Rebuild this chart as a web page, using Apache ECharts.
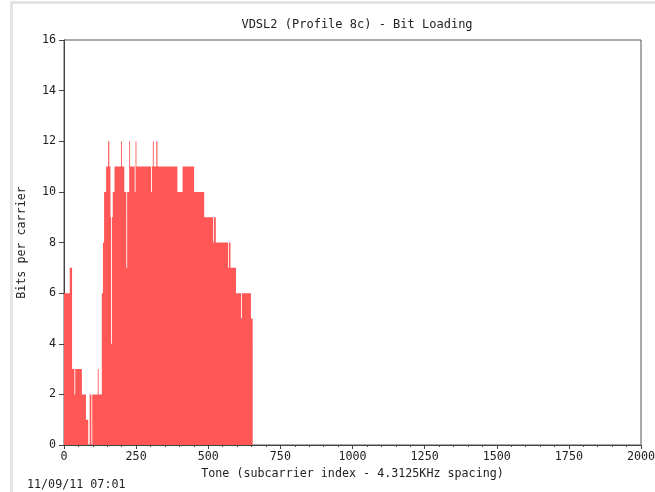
<!DOCTYPE html>
<html>
<head>
<meta charset="utf-8">
<script src="https://cdn.jsdelivr.net/npm/echarts@6/dist/echarts.min.js"></script>
<style>
  html, body { margin: 0; padding: 0; background: #ffffff; }
  #chart { width: 655px; height: 492px; }
</style>
</head>
<body>
<div id="chart"></div>
<script>
// Tone index where each bit-loading step starts (value holds until next tone)
var toneStarts = [0, 20, 28, 36, 39, 62, 76, 84, 89, 95, 98, 117, 120,
  131, 135, 139, 146, 153, 157, 161, 163, 166, 169, 175, 182, 186, 198, 201, 209, 216, 219,
  226, 229, 245, 248, 251, 302, 305, 308, 311, 320, 324, 393, 411, 451, 486,
  517, 520, 526, 569, 572, 577, 596, 614, 617, 648, 654];
// Bits per carrier for each step
var bitValues = [6, 7, 3, 2, 3, 2, 1, 0, 2, 0, 2, 3, 2,
  6, 8, 10, 11, 12, 11, 9, 4, 9, 10, 11, 11, 11, 12, 11, 10, 7, 10,
  12, 11, 10, 12, 11, 10, 11, 12, 11, 12, 11, 10, 11, 10, 9,
  8, 9, 8, 7, 8, 7, 6, 5, 6, 5, 0];
var xTicks = [0, 250, 500, 750, 1000, 1250, 1500, 1750, 2000];
var yTicks = [0, 2, 4, 6, 8, 10, 12, 14, 16];

var seriesData = toneStarts.map(function (t, i) { return [t, bitValues[i]]; });
var mono = '"DejaVu Sans Mono", "Liberation Mono", monospace';

function renderSteps(params, api) {
  if (params.dataIndex !== 0) { return null; }
  var pts = [];
  pts.push(api.coord([toneStarts[0], 0]));
  for (var i = 0; i < toneStarts.length; i++) {
    var next = i + 1 < toneStarts.length ? toneStarts[i + 1] : toneStarts[i];
    pts.push(api.coord([toneStarts[i], bitValues[i]]));
    pts.push(api.coord([next, bitValues[i]]));
  }
  pts.push(api.coord([toneStarts[toneStarts.length - 1], 0]));
  return {
    type: 'polygon',
    shape: { points: pts },
    style: { fill: '#ff5656', stroke: null }
  };
}

var chart = echarts.init(document.getElementById('chart'), null, { renderer: 'canvas' });
chart.setOption({
  animation: false,
  backgroundColor: '#ffffff',
  title: {
    text: 'VDSL2 (Profile 8c) - Bit Loading',
    left: 352, top: 14, textAlign: 'center',
    textStyle: { fontFamily: mono, fontSize: 12, fontWeight: 'normal', color: '#222' }
  },
  grid: { left: 64, right: 14, top: 40, bottom: 47, show: true, borderColor: '#555', borderWidth: 1,
          outerBoundsMode: 'none', containLabel: false },
  xAxis: {
    type: 'value', min: xTicks[0], max: xTicks[xTicks.length - 1], interval: xTicks[1] - xTicks[0],
    name: 'Tone (subcarrier index - 4.3125KHz spacing)',
    nameLocation: 'middle', nameGap: 20,
    nameTextStyle: { fontFamily: mono, fontSize: 11.7, color: '#222' },
    axisLine: { lineStyle: { color: '#444', width: 1 } },
    axisTick: { show: true, length: 4, lineStyle: { color: '#444' } },
    minorTick: { show: true, splitNumber: 5, length: 2, lineStyle: { color: '#444' } },
    axisLabel: { fontFamily: mono, fontSize: 11.7, color: '#222', margin: 6,
                 formatter: function (v) { return String(v); } },
    splitLine: { show: false }
  },
  yAxis: {
    type: 'value', min: yTicks[0], max: yTicks[yTicks.length - 1], interval: yTicks[1] - yTicks[0],
    name: 'Bits per carrier',
    nameLocation: 'middle', nameGap: 36, nameRotate: 90,
    nameTextStyle: { fontFamily: mono, fontSize: 11.7, color: '#222' },
    axisLine: { show: true, lineStyle: { color: '#444', width: 1 } },
    axisTick: { show: true, length: 5, lineStyle: { color: '#444' } },
    axisLabel: { fontFamily: mono, fontSize: 11.7, color: '#222', margin: 8 },
    splitLine: { show: false }
  },
  series: [{
    type: 'custom',
    data: seriesData,
    renderItem: renderSteps,
    clip: true,
    silent: true,
    z: 1
  }],
  graphic: [
    { type: 'rect', shape: { x: 10, y: 1, width: 3, height: 491 }, style: { fill: '#e4e4e4' }, silent: true },
    { type: 'rect', shape: { x: 10, y: 1, width: 645, height: 3 }, style: { fill: '#e4e4e4' }, silent: true },
    { type: 'text', left: 27, top: 479, style: { text: '11/09/11 07:01', font: '11.7px ' + mono, fill: '#222' } }
  ]
});
</script>
</body>
</html>
